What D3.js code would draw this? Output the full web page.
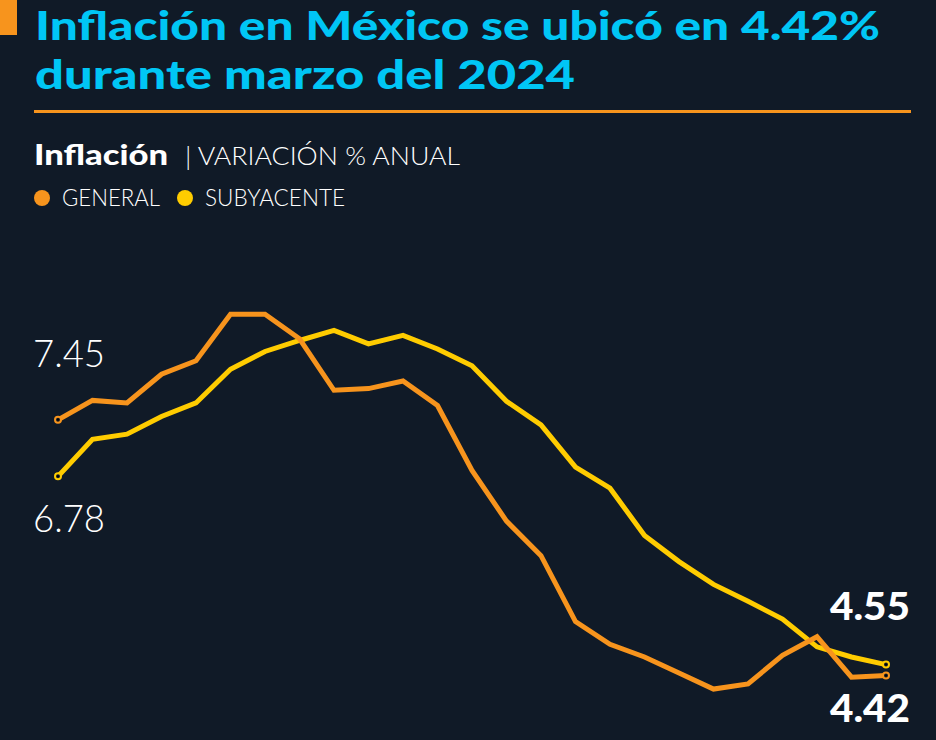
<!DOCTYPE html>
<html>
<head>
<meta charset="utf-8">
<script src="https://cdn.jsdelivr.net/npm/d3@7"></script>
<style>
  html, body { margin: 0; padding: 0; background: #101a27; }
  svg { display: block; font-family: Lato, "Noto Sans", sans-serif; }
</style>
</head>
<body>
<div id="chart"></div>
<script>
// months from marzo 2022 to marzo 2024
const months = ["2022-03","2022-04","2022-05","2022-06","2022-07","2022-08","2022-09","2022-10","2022-11","2022-12",
  "2023-01","2023-02","2023-03","2023-04","2023-05","2023-06","2023-07","2023-08","2023-09","2023-10","2023-11","2023-12",
  "2024-01","2024-02","2024-03"];

// inflacion general, % anual
const general = [7.45, 7.68, 7.65, 7.99, 8.15, 8.70, 8.70, 8.41, 7.80, 7.82,
  7.91, 7.62, 6.85, 6.25, 5.84, 5.06, 4.79, 4.64, 4.45, 4.26, 4.32, 4.66,
  4.88, 4.40, 4.42];

// inflacion subyacente, % anual
const subyacente = [6.78, 7.22, 7.28, 7.49, 7.65, 8.05, 8.26, 8.39, 8.51, 8.35,
  8.45, 8.29, 8.09, 7.67, 7.39, 6.89, 6.64, 6.08, 5.77, 5.50, 5.30, 5.09,
  4.76, 4.64, 4.55];

const seriesNames = ["GENERAL", "SUBYACENTE"];
const colors = {GENERAL: "#f7941d", SUBYACENTE: "#ffcc00"};

const W = 936, H = 740;
const svg = d3.select("#chart").append("svg")
  .attr("width", W)
  .attr("height", H);

svg.append("rect").attr("width", W).attr("height", H).attr("fill", "#101a27");

//Header
svg.append("rect").attr("x", 0).attr("y", 0).attr("width", 17).attr("height", 35).attr("fill", "#f7941d");

const title = svg.append("text")
  .attr("fill", "#00c6f5")
  .attr("font-weight", 900)
  .attr("font-size", 40);
title.append("tspan").attr("x", 35).attr("y", 40)
  .attr("textLength", 845).attr("lengthAdjust", "spacingAndGlyphs")
  .text("Inflación en México se ubicó en 4.42%");
title.append("tspan").attr("x", 35).attr("y", 89)
  .attr("textLength", 540).attr("lengthAdjust", "spacingAndGlyphs")
  .text("durante marzo del 2024");

svg.append("line")
  .attr("x1", 34).attr("x2", 911)
  .attr("y1", 111.5).attr("y2", 111.5)
  .attr("stroke", "#f7941d")
  .attr("stroke-width", 3);

svg.append("text").attr("x", 34).attr("y", 165).attr("fill", "#fff")
  .attr("font-weight", 900).attr("font-size", 28)
  .attr("textLength", 134).attr("lengthAdjust", "spacingAndGlyphs")
  .text("Inflación");
svg.append("text").attr("x", 185).attr("y", 165).attr("fill", "#fff")
  .attr("font-weight", 300).attr("font-size", 25)
  .attr("textLength", 275).attr("lengthAdjust", "spacingAndGlyphs")
  .text("| VARIACIÓN % ANUAL");

//Legend
const legendWidths = {GENERAL: 98, SUBYACENTE: 140};
const legend = svg.append("g").attr("transform", "translate(42,198)");
let lx = 0;
seriesNames.forEach((name) => {
  const item = legend.append("g").attr("transform", "translate(" + lx + ",0)");
  item.append("circle").attr("r", 8).attr("fill", colors[name]);
  item.append("text")
    .attr("x", 20).attr("y", 8)
    .attr("fill", "#fff")
    .attr("font-weight", 300)
    .attr("font-size", 23)
    .attr("textLength", legendWidths[name]).attr("lengthAdjust", "spacingAndGlyphs")
    .text(name);
  lx += 20 + legendWidths[name] + 25;
});

//Scales
const xi = d3.scalePoint()
  .domain(d3.range(months.length))
  .range([58, 886]);

const y = d3.scaleLinear()
  .domain([4, 9])
  .range([711, 289]);

const line = d3.line()
  .x((d, i) => xi(i))
  .y((d) => y(d));

const data = [
  {name: "GENERAL", values: general},
  {name: "SUBYACENTE", values: subyacente}
];

const g = svg.append("g");

data.slice().reverse().forEach((s) => {
  g.append("path")
    .datum(s.values)
    .attr("fill", "none")
    .attr("stroke", colors[s.name])
    .attr("stroke-width", 5)
    .attr("stroke-linejoin", "miter")
    .attr("d", line);
});

//End points
data.forEach((s) => {
  const last = s.values.length - 1;
  [0, last].forEach((i) => {
    g.append("circle")
      .attr("cx", xi(i))
      .attr("cy", y(s.values[i]))
      .attr("r", 3)
      .attr("fill", "#101a27")
      .attr("stroke", colors[s.name])
      .attr("stroke-width", 2);
    g.append("circle")
      .attr("cx", xi(i))
      .attr("cy", y(s.values[i]))
      .attr("r", 1)
      .attr("fill", "#000");
  });
});

//Value labels
const fmt = d3.format(".2f");
const labels = [
  {v: general[0], x: 33, y: 367, anchor: "start", weight: 300},
  {v: subyacente[0], x: 33, y: 532, anchor: "start", weight: 300},
  {v: subyacente[subyacente.length - 1], x: 910, y: 620, anchor: "end", weight: 900},
  {v: general[general.length - 1], x: 910, y: 722, anchor: "end", weight: 900}
];
labels.forEach((l) => {
  svg.append("text")
    .attr("x", l.anchor === "start" ? l.x : l.x - 80)
    .attr("y", l.y)
    .attr("fill", "#fff")
    .attr("font-weight", l.weight)
    .attr("font-size", 37)
    .attr("textLength", l.weight === 300 ? 72 : 80)
    .attr("lengthAdjust", "spacingAndGlyphs")
    .text(fmt(l.v));
});
</script>
</body>
</html>
